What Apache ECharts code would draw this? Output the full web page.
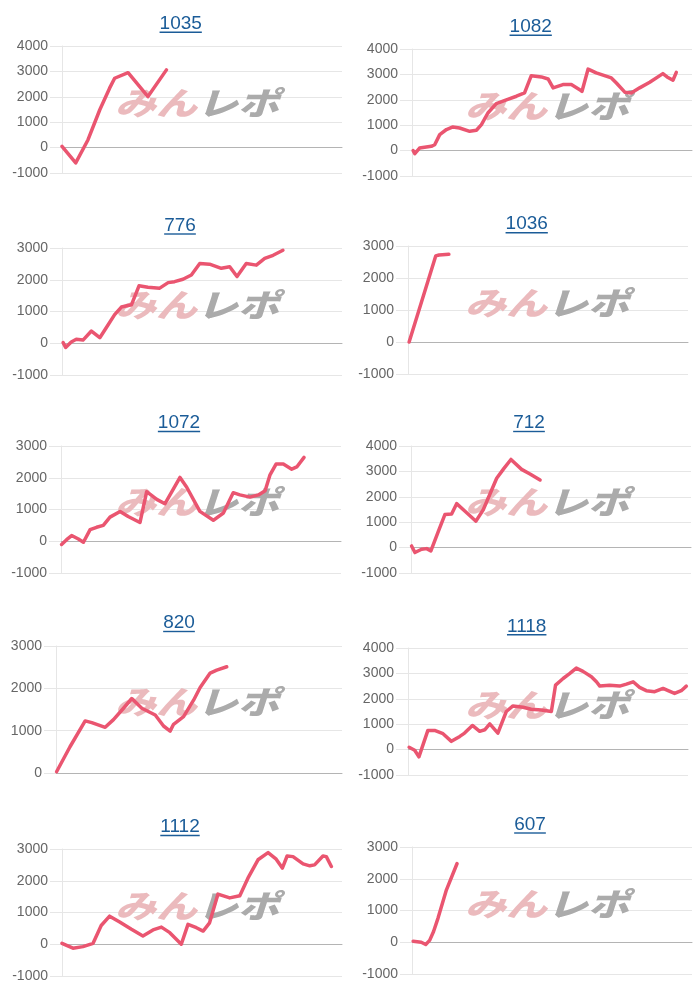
<!DOCTYPE html>
<html><head><meta charset="utf-8">
<script src="https://cdn.jsdelivr.net/npm/echarts@6/dist/echarts.min.js"></script>
<style>html,body{margin:0;padding:0;background:#fff}#c{width:700px;height:1000px}</style>
</head><body><div id="c"></div>
<script>
// ---- data ----
const titles = ['1035','1082','776','1036','1072','712','820','1118','1112','607'];
const yMins = [-1000,-1000,-1000,-1000,-1000,-1000,0,-1000,-1000,-1000];
const yMaxs = [4000,4000,3000,3000,3000,4000,3000,4000,3000,3000];
const yStep = 1000;
const xMax = 100; // run progress, 0..100

const x1035 = [0,4.9,9.3,13.5,17.0,18.8,23.6,30.7,37.3];
const y1035 = [50,-600,310,1490,2340,2730,2950,2010,3060];

const x1082 = [0.4,1.0,2.7,6.9,8.1,9.9,12.3,14.6,17.0,20.6,23.0,24.8,27.1,30.1,33.7,37.3,40.2,42.6,46.2,48.6,50.4,53.9,56.9,59.9,60.7,62.9,65.8,71.2,73.0,76.0,78.3,81.3,84.9,89.6,91.1,93.2,94.4];
const y1082 = [0,-120,100,170,230,630,830,930,890,760,800,1020,1480,1850,2000,2140,2270,2950,2900,2820,2470,2600,2600,2400,2330,3210,3060,2860,2660,2300,2270,2470,2690,3030,2900,2770,3080];

const x776 = [0.4,1.3,3.3,5.1,7.5,10.5,13.5,15.8,18.8,21.2,24.8,27.5,30.7,34.9,37.9,40.2,43.2,46.2,49.2,52.7,56.9,59.9,62.5,65.8,69.4,72.4,75.4,78.9];
const y776 = [20,-135,40,125,100,385,175,490,900,1140,1210,1810,1765,1735,1910,1940,2015,2150,2510,2490,2360,2410,2100,2510,2460,2670,2770,2930];

const x1036 = [0.4,9.9,11.1,14.6];
const y1036 = [0,2690,2720,2740];

const x1072 = [0.2,2.0,3.8,6.2,8.0,10.4,12.7,15.1,17.5,21.1,24.0,28.2,30.6,34.2,37.1,42.5,44.9,49.6,54.4,58.0,61.5,63.9,67.5,70.5,72.9,74.6,76.8,79.4,82.4,84.2,86.8];
const y1072 = [-100,50,180,70,-30,365,440,500,760,940,780,590,1560,1320,1180,2010,1700,940,660,890,1530,1460,1390,1460,1590,2080,2430,2430,2270,2340,2640];

const x712 = [0.2,1.4,3.8,5.6,7.1,9.8,12.1,14.5,16.3,19.3,23.2,25.8,30.6,33.2,35.7,39.5,42.5,46.1];
const y712 = [65,-195,-65,-40,-130,650,1300,1320,1730,1430,1040,1490,2730,3120,3470,3080,2900,2660];

const x820 = [0.2,4.9,10.2,12.5,17.2,20.1,23.6,26.5,30.0,34.7,37.6,39.9,41.1,44.6,48.1,50.4,53.9,56.2,59.7];
const y820 = [30,620,1230,1190,1080,1260,1530,1760,1530,1370,1110,990,1150,1330,1720,2020,2360,2430,2510];

const x1118 = [0.4,2.4,3.9,7.1,9.5,12.5,15.5,18.5,20.2,23.0,25.6,27.4,29.2,32.1,35.1,37.5,41.1,44.0,47.6,51.2,52.7,55.4,57.7,60.1,62.5,65.5,67.3,68.5,72.0,75.6,78.0,80.4,82.7,85.1,88.1,91.1,92.9,95.2,97.6,99.4];
const y1118 = [90,-25,-285,755,755,625,325,520,650,950,720,780,1015,650,1500,1720,1670,1590,1560,1500,2540,2800,2990,3210,3080,2870,2670,2500,2530,2500,2580,2670,2450,2320,2280,2410,2320,2210,2320,2500];

const x1112 = [0,3.9,7.5,11.1,14.0,17.0,20.6,24.8,28.9,32.5,35.5,38.5,42.6,45.0,48.0,50.4,52.7,55.7,59.9,63.5,66.4,70.0,73.6,76.5,78.7,80.4,82.5,86.1,88.5,90.2,93.2,94.4,96.2];
const y1112 = [30,-125,-75,30,590,885,700,470,260,450,540,365,0,625,520,415,675,1580,1460,1530,2080,2660,2885,2680,2400,2780,2760,2530,2470,2500,2780,2760,2450];

const x607 = [0.4,3.3,4.9,6.3,7.7,9.3,12.3,16.1];
const y607 = [30,0,-70,60,340,760,1650,2480];

const seriesX = [x1035,x1082,x776,x1036,x1072,x712,x820,x1118,x1112,x607];
const seriesY = [y1035,y1082,y776,y1036,y1072,y712,y820,y1118,y1112,y607];

// ---- layout (pixels) ----
const layout = [
  {l:62, t:46, w:280, h:127, tx:180.7, ty:23.7},
  {l:412,t:49, w:280, h:127, tx:530.7, ty:26.7},
  {l:62, t:248,w:280, h:127, tx:180,   ty:225.5},
  {l:408,t:246,w:280, h:128, tx:526.7, ty:224.2},
  {l:61, t:446,w:280, h:127, tx:179,   ty:423},
  {l:411,t:446,w:280, h:127, tx:529,   ty:423},
  {l:56, t:646,w:286, h:127, tx:179,   ty:623},
  {l:408,t:648,w:280, h:127, tx:526.7, ty:626.3},
  {l:62, t:849,w:280, h:127, tx:180,   ty:827},
  {l:412,t:847,w:280, h:127, tx:530,   ty:824.5}
];

const LINE = '#ea5570';
const GRIDC = '#e6e6e6';
const LABELFONT = '"Liberation Sans", Arial, sans-serif';
const TITLEC = '#1b5c98';

const mctx = document.createElement('canvas').getContext('2d');
mctx.font = '19px "Liberation Sans"';

const grids = [], xAxes = [], yAxes = [], series = [], gfx = [];
layout.forEach((p, i) => {
  grids.push({left:p.l, top:p.t, width:p.w, height:p.h, outerBoundsMode:'none'});
  xAxes.push({type:'value', gridIndex:i, min:0, max:xMax,
    axisLabel:{show:false}, axisTick:{show:false}, splitLine:{show:false},
    axisLine:{show:true, onZero:true, lineStyle:{color:'#b4b4b4', width:1}}});
  yAxes.push({type:'value', gridIndex:i, min:yMins[i], max:yMaxs[i], interval:yStep,
    axisLine:{show:true, onZero:false, lineStyle:{color:GRIDC}},
    axisTick:{show:true, length:12, lineStyle:{color:GRIDC}},
    axisLabel:{margin:14, color:'#666', fontSize:14, fontFamily:LABELFONT, formatter: v => String(v)},
    splitLine:{show:true, lineStyle:{color:GRIDC}}});
  series.push({type:'line', xAxisIndex:i, yAxisIndex:i, showSymbol:false, symbol:'none',
    data: seriesX[i].map((x, k) => [x, seriesY[i][k]]),
    lineStyle:{color:LINE, width:3.5, join:'round', cap:'round'}, z:5, animation:false});
  const tw = mctx.measureText(titles[i]).width;
  gfx.push({type:'text', z:10, style:{text:titles[i], x:p.tx, y:p.ty, align:'center', verticalAlign:'middle',
    fill:TITLEC, fontSize:19, fontFamily:LABELFONT}});
  gfx.push({type:'line', z:10, shape:{x1:p.tx - tw/2, y1:p.ty + 8.5, x2:p.tx + tw/2, y2:p.ty + 8.5},
    style:{stroke:TITLEC, lineWidth:1.4}});
  const base = p.l < 300 ? 0 : 350;
  gfx.push({type:'text', z:1, x:base + 197, y:p.ty + 79, scaleX:1.0, scaleY:0.78,
    style:{text:'{a|みん}{b|レポ}', x:0, y:0,
    align:'center', verticalAlign:'middle',
    rich:{
      a:{fill:'#ebbabd', fontSize:41, fontWeight:900, fontStyle:'italic', fontFamily:'"Noto Sans CJK JP"'},
      b:{fill:'#ababab', fontSize:41, fontWeight:900, fontStyle:'italic', fontFamily:'"Noto Sans CJK JP"'}
    }}});
});

const chart = echarts.init(document.getElementById('c'), null, {renderer:'canvas'});
chart.setOption({
  animation:false,
  backgroundColor:'#fff',
  grid:grids, xAxis:xAxes, yAxis:yAxes, series:series,
  graphic:{elements:gfx}
});
</script>
</body></html>
